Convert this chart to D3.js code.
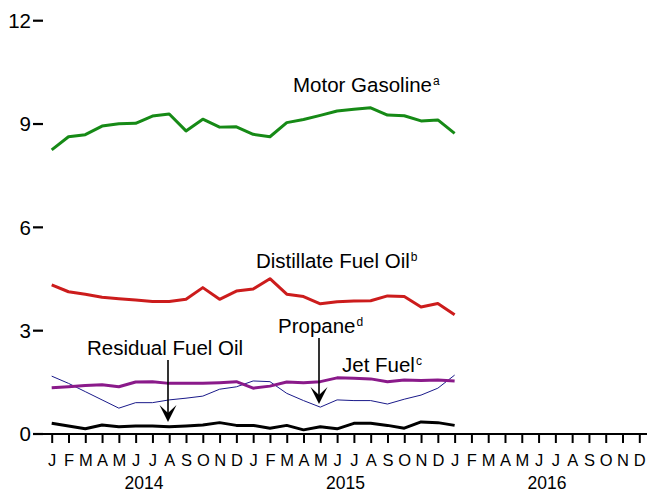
<!DOCTYPE html>
<html>
<head>
<meta charset="utf-8">
<script src="https://cdn.jsdelivr.net/npm/d3@7"></script>
<style>
  html, body { margin: 0; padding: 0; background: #fff; }
  svg { display: block; font-family: "Liberation Sans", Arial, Helvetica, sans-serif; }
</style>
</head>
<body>
<svg id="chart" width="647" height="494"></svg>
<script>
// Monthly axis: Jan 2014 through Dec 2016
const monthLetters = ["J","F","M","A","M","J","J","A","S","O","N","D"];
const years = ["2014", "2015", "2016"];
const yTicks = [0, 3, 6, 9, 12];

// Series values, Jan 2014 .. Jan 2016 (25 months)
const motorGasoline = [8.25, 8.63, 8.69, 8.94, 9.01, 9.02, 9.23, 9.29, 8.80, 9.14, 8.91, 8.92,
                       8.70, 8.63, 9.04, 9.13, 9.25, 9.38, 9.43, 9.47, 9.26, 9.24, 9.09, 9.12, 8.73];
const distillateFuelOil = [4.33, 4.13, 4.06, 3.97, 3.93, 3.89, 3.85, 3.85, 3.91, 4.25, 3.91, 4.15,
                           4.21, 4.51, 4.06, 3.99, 3.78, 3.84, 3.86, 3.87, 4.01, 3.99, 3.69, 3.79, 3.46];
const jetFuel = [1.34, 1.37, 1.41, 1.43, 1.37, 1.51, 1.52, 1.47, 1.47, 1.47, 1.49, 1.52,
                 1.33, 1.39, 1.51, 1.49, 1.52, 1.63, 1.62, 1.60, 1.52, 1.57, 1.55, 1.57, 1.54];
const propane = [1.68, 1.47, 1.23, 0.99, 0.75, 0.91, 0.91, 0.99, 1.04, 1.10, 1.30, 1.37,
                 1.54, 1.52, 1.18, 0.97, 0.78, 0.99, 0.97, 0.97, 0.87, 1.01, 1.13, 1.33, 1.71];
const residualFuelOil = [0.31, 0.23, 0.15, 0.26, 0.21, 0.23, 0.23, 0.21, 0.23, 0.26, 0.33, 0.25,
                         0.25, 0.17, 0.25, 0.12, 0.21, 0.15, 0.31, 0.31, 0.25, 0.17, 0.35, 0.33, 0.25];

const svg = d3.select("#chart");
const nMonths = monthLetters.length * years.length;

const x = d3.scaleLinear().domain([0, nMonths - 1]).range([51.7, 639.3]);
const y = d3.scaleLinear().domain([0, 12]).range([434, 20.7]);

// Y ticks: short dashes with labels, no axis spine
const yAxis = svg.append("g");
yAxis.selectAll("line").data(yTicks).join("line")
  .attr("x1", 33).attr("x2", 43)
  .attr("y1", d => y(d)).attr("y2", d => y(d))
  .attr("stroke", "#000").attr("stroke-width", 2.2);
yAxis.selectAll("text").data(yTicks).join("text")
  .attr("x", 31).attr("y", d => y(d)).attr("dy", "0.36em")
  .attr("text-anchor", "end").attr("font-size", 20.5).attr("fill", "#000")
  .text(d => d);

// X axis via d3.axisBottom with month letters
const xAxis = d3.axisBottom(x)
  .tickValues(d3.range(nMonths))
  .tickFormat(i => monthLetters[i % 12])
  .tickSize(9).tickPadding(11);
const gx = svg.append("g").attr("transform", `translate(0,${y(0)})`).call(xAxis);
gx.select(".domain").remove();
gx.selectAll(".tick line").attr("stroke", "#000").attr("stroke-width", 2);
gx.selectAll(".tick text").attr("font-size", 16.5).attr("fill", "#000")
  .attr("font-family", "Liberation Sans, Arial, sans-serif");
svg.append("line")
  .attr("x1", 33).attr("x2", 647).attr("y1", y(0)).attr("y2", y(0))
  .attr("stroke", "#000").attr("stroke-width", 2);

// Year labels centred under each group of 12 months
svg.append("g").selectAll("text").data(years).join("text")
  .attr("x", (d, i) => (x(i * 12) + x(i * 12 + 11)) / 2)
  .attr("y", 489)
  .attr("text-anchor", "middle").attr("font-size", 17.5).attr("fill", "#000")
  .text(d => d);

// Series lines
const line = d3.line().x((d, i) => x(i)).y(d => y(d));
const series = [
  { values: motorGasoline, color: "#168a16", width: 3 },
  { values: distillateFuelOil, color: "#cc1c1c", width: 3 },
  { values: propane, color: "#1a1a8a", width: 1 },
  { values: jetFuel, color: "#8a1a8a", width: 3 },
  { values: residualFuelOil, color: "#000000", width: 3 }
];
svg.append("g").selectAll("path").data(series).join("path")
  .attr("d", d => line(d.values))
  .attr("fill", "none")
  .attr("stroke", d => d.color)
  .attr("stroke-width", d => d.width)
  .attr("stroke-linejoin", "round");

// Series labels with footnote superscripts
const labels = [
  { text: "Motor Gasoline", sup: "a", x: 293, y: 92 },
  { text: "Distillate Fuel Oil", sup: "b", x: 256, y: 268 },
  { text: "Propane", sup: "d", x: 278, y: 333 },
  { text: "Jet Fuel", sup: "c", x: 342, y: 372 },
  { text: "Residual Fuel Oil", sup: "", x: 87, y: 355 }
];
const lt = svg.append("g").selectAll("text").data(labels).join("text")
  .attr("x", d => d.x).attr("y", d => d.y)
  .attr("font-size", 20.5).attr("fill", "#000");
lt.append("tspan").text(d => d.text);
lt.append("tspan").attr("font-size", 12).attr("dx", 1).attr("dy", -7).text(d => d.sup);

// Pointer arrows from labels down to their series
const arrows = [
  { x: 168, y1: 360, y2: 422 },
  { x: 319, y1: 338, y2: 404 }
];
const ag = svg.append("g");
ag.selectAll("line").data(arrows).join("line")
  .attr("x1", d => d.x).attr("x2", d => d.x)
  .attr("y1", d => d.y1).attr("y2", d => d.y2 - 6)
  .attr("stroke", "#000").attr("stroke-width", 1.6);
ag.selectAll("path").data(arrows).join("path")
  .attr("d", d => `M${d.x},${d.y2} L${d.x - 8.5},${d.y2 - 17} L${d.x},${d.y2 - 9} L${d.x + 8.5},${d.y2 - 17} Z`)
  .attr("fill", "#000");
</script>
</body>
</html>
